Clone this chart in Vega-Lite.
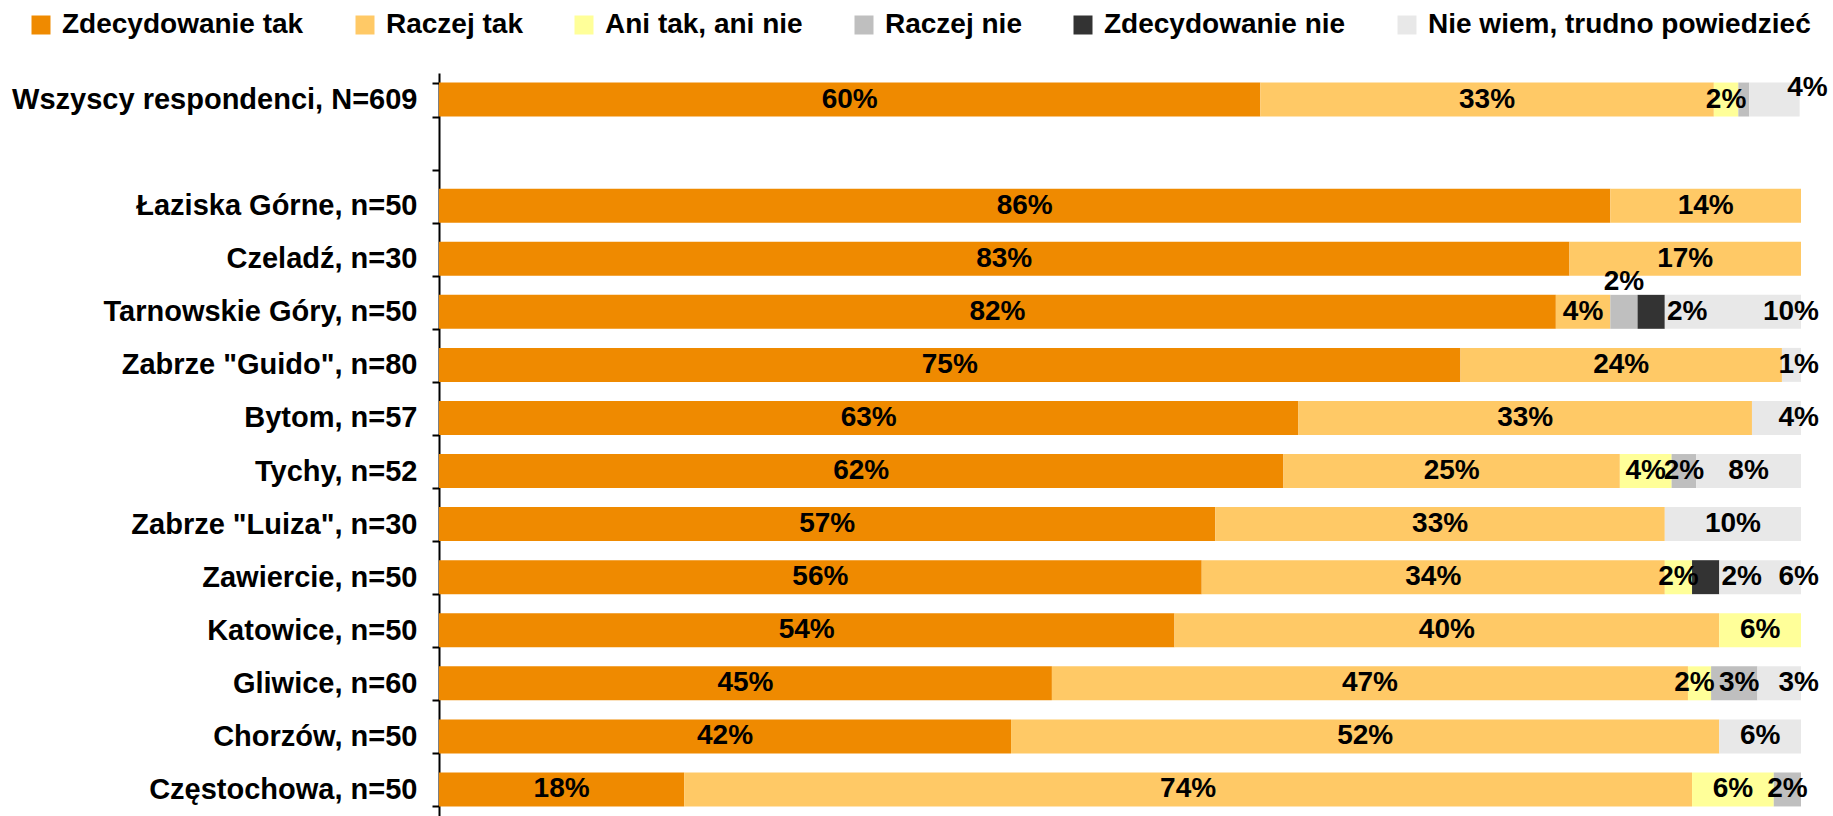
{
  "$schema": "https://vega.github.io/schema/vega-lite/v6.json",
  "width": 1362,
  "height": 743,
  "autosize": {"type": "none"},
  "padding": {"left": 439, "top": 73, "right": 32, "bottom": 0},
  "config": {"view": {"stroke": null}, "font": "Liberation Sans"},
  "data": {
    "values": [
      {"g": "Wszyscy respondenci, N=609", "a": "Zdecydowanie tak", "k": 1, "v": 0.603},
      {"g": "Wszyscy respondenci, N=609", "a": "Raczej tak", "k": 2, "v": 0.333},
      {"g": "Wszyscy respondenci, N=609", "a": "Ani tak, ani nie", "k": 3, "v": 0.018},
      {"g": "Wszyscy respondenci, N=609", "a": "Raczej nie", "k": 4, "v": 0.008},
      {"g": "Wszyscy respondenci, N=609", "a": "Nie wiem, trudno powiedzieć", "k": 6, "v": 0.037},
      {"g": "Łaziska Górne, n=50", "a": "Zdecydowanie tak", "k": 1, "v": 0.86},
      {"g": "Łaziska Górne, n=50", "a": "Raczej tak", "k": 2, "v": 0.14},
      {"g": "Czeladź, n=30", "a": "Zdecydowanie tak", "k": 1, "v": 0.83},
      {"g": "Czeladź, n=30", "a": "Raczej tak", "k": 2, "v": 0.17},
      {"g": "Tarnowskie Góry, n=50", "a": "Zdecydowanie tak", "k": 1, "v": 0.82},
      {"g": "Tarnowskie Góry, n=50", "a": "Raczej tak", "k": 2, "v": 0.04},
      {"g": "Tarnowskie Góry, n=50", "a": "Raczej nie", "k": 4, "v": 0.02},
      {"g": "Tarnowskie Góry, n=50", "a": "Zdecydowanie nie", "k": 5, "v": 0.02},
      {"g": "Tarnowskie Góry, n=50", "a": "Nie wiem, trudno powiedzieć", "k": 6, "v": 0.10},
      {"g": "Zabrze \"Guido\", n=80", "a": "Zdecydowanie tak", "k": 1, "v": 0.75},
      {"g": "Zabrze \"Guido\", n=80", "a": "Raczej tak", "k": 2, "v": 0.236},
      {"g": "Zabrze \"Guido\", n=80", "a": "Nie wiem, trudno powiedzieć", "k": 6, "v": 0.014},
      {"g": "Bytom, n=57", "a": "Zdecydowanie tak", "k": 1, "v": 0.631},
      {"g": "Bytom, n=57", "a": "Raczej tak", "k": 2, "v": 0.333},
      {"g": "Bytom, n=57", "a": "Nie wiem, trudno powiedzieć", "k": 6, "v": 0.036},
      {"g": "Tychy, n=52", "a": "Zdecydowanie tak", "k": 1, "v": 0.62},
      {"g": "Tychy, n=52", "a": "Raczej tak", "k": 2, "v": 0.247},
      {"g": "Tychy, n=52", "a": "Ani tak, ani nie", "k": 3, "v": 0.038},
      {"g": "Tychy, n=52", "a": "Raczej nie", "k": 4, "v": 0.018},
      {"g": "Tychy, n=52", "a": "Nie wiem, trudno powiedzieć", "k": 6, "v": 0.077},
      {"g": "Zabrze \"Luiza\", n=30", "a": "Zdecydowanie tak", "k": 1, "v": 0.57},
      {"g": "Zabrze \"Luiza\", n=30", "a": "Raczej tak", "k": 2, "v": 0.33},
      {"g": "Zabrze \"Luiza\", n=30", "a": "Nie wiem, trudno powiedzieć", "k": 6, "v": 0.10},
      {"g": "Zawiercie, n=50", "a": "Zdecydowanie tak", "k": 1, "v": 0.56},
      {"g": "Zawiercie, n=50", "a": "Raczej tak", "k": 2, "v": 0.34},
      {"g": "Zawiercie, n=50", "a": "Ani tak, ani nie", "k": 3, "v": 0.02},
      {"g": "Zawiercie, n=50", "a": "Zdecydowanie nie", "k": 5, "v": 0.02},
      {"g": "Zawiercie, n=50", "a": "Nie wiem, trudno powiedzieć", "k": 6, "v": 0.06},
      {"g": "Katowice, n=50", "a": "Zdecydowanie tak", "k": 1, "v": 0.54},
      {"g": "Katowice, n=50", "a": "Raczej tak", "k": 2, "v": 0.40},
      {"g": "Katowice, n=50", "a": "Ani tak, ani nie", "k": 3, "v": 0.06},
      {"g": "Gliwice, n=60", "a": "Zdecydowanie tak", "k": 1, "v": 0.45},
      {"g": "Gliwice, n=60", "a": "Raczej tak", "k": 2, "v": 0.467},
      {"g": "Gliwice, n=60", "a": "Ani tak, ani nie", "k": 3, "v": 0.017},
      {"g": "Gliwice, n=60", "a": "Raczej nie", "k": 4, "v": 0.034},
      {"g": "Gliwice, n=60", "a": "Nie wiem, trudno powiedzieć", "k": 6, "v": 0.032},
      {"g": "Chorzów, n=50", "a": "Zdecydowanie tak", "k": 1, "v": 0.42},
      {"g": "Chorzów, n=50", "a": "Raczej tak", "k": 2, "v": 0.52},
      {"g": "Chorzów, n=50", "a": "Nie wiem, trudno powiedzieć", "k": 6, "v": 0.06},
      {"g": "Częstochowa, n=50", "a": "Zdecydowanie tak", "k": 1, "v": 0.18},
      {"g": "Częstochowa, n=50", "a": "Raczej tak", "k": 2, "v": 0.74},
      {"g": "Częstochowa, n=50", "a": "Ani tak, ani nie", "k": 3, "v": 0.06},
      {"g": "Częstochowa, n=50", "a": "Raczej nie", "k": 4, "v": 0.02}
    ]
  },
  "transform": [
    {"stack": "v", "groupby": ["g"], "sort": [{"field": "k", "order": "ascending"}], "as": ["v0", "v1"]},
    {"calculate": "(datum.v0 + datum.v1) / 2", "as": "mid"}
  ],
  "encoding": {
    "y": {
      "field": "g",
      "type": "nominal",
      "scale": {
        "domain": ["Wszyscy respondenci, N=609", " ", "Łaziska Górne, n=50", "Czeladź, n=30", "Tarnowskie Góry, n=50", "Zabrze \"Guido\", n=80", "Bytom, n=57", "Tychy, n=52", "Zabrze \"Luiza\", n=30", "Zawiercie, n=50", "Katowice, n=50", "Gliwice, n=60", "Chorzów, n=50", "Częstochowa, n=50"],
        "paddingInner": 0.36,
        "paddingOuter": 0.18
      },
      "axis": {
        "title": null,
        "labelFontSize": 29,
        "labelFontWeight": "bold",
        "labelColor": "black",
        "labelLimit": 600,
        "labelPadding": 15,
        "tickSize": 7,
        "tickWidth": 2,
        "tickColor": "black",
        "domainColor": "black",
        "domainWidth": 2,
        "tickBand": "extent",
        "grid": false
      }
    }
  },
  "layer": [
    {
      "mark": {"type": "bar"},
      "encoding": {
        "x": {"field": "v0", "type": "quantitative", "scale": {"domain": [0, 1], "nice": false, "zero": true}, "axis": null},
        "x2": {"field": "v1"},
        "color": {
          "field": "a",
          "type": "nominal",
          "scale": {
            "domain": ["Zdecydowanie tak", "Raczej tak", "Ani tak, ani nie", "Raczej nie", "Zdecydowanie nie", "Nie wiem, trudno powiedzieć"],
            "range": ["#EF8A00", "#FFC966", "#FFFF99", "#BFBFBF", "#333333", "#E8E8E8"]
          },
          "legend": {
            "orient": "none",
            "legendX": -412,
            "legendY": -62,
            "direction": "horizontal",
            "columns": 6,
            "title": null,
            "symbolType": "square",
            "symbolSize": 361,
            "symbolStrokeWidth": 0,
            "symbolOpacity": 1,
            "labelFontSize": 28,
            "labelFontWeight": "bold",
            "labelColor": "black",
            "labelOffset": 7,
            "labelLimit": 700,
            "columnPadding": 47
          }
        }
      }
    },
    {
      "transform": [{"filter": "datum.v >= 0.01 && datum.k != 5 && !(indexof(datum.g,'Gliwice') == 0 && (datum.k == 3 || datum.k == 4)) && !(datum.k == 4 && indexof(datum.g,'Tarnowskie') == 0) && !(datum.k == 6 && (indexof(datum.g,'Wszyscy') == 0 || indexof(datum.g,'Tarnowskie') == 0 || indexof(datum.g,'Guido') >= 0 || indexof(datum.g,'Bytom') == 0 || indexof(datum.g,'Zawiercie') == 0 || indexof(datum.g,'Gliwice') == 0))"}],
      "mark": {"type": "text", "fontSize": 28, "fontWeight": "bold", "color": "black", "baseline": "middle", "align": "center"},
      "encoding": {
        "x": {"field": "mid", "type": "quantitative"},
        "text": {"field": "v", "type": "quantitative", "format": ".0%"}
      }
    },
    {
      "transform": [{"filter": "datum.k == 5"}],
      "mark": {"type": "text", "fontSize": 28, "fontWeight": "bold", "color": "black", "baseline": "middle", "align": "center", "dx": 36},
      "encoding": {
        "x": {"field": "mid", "type": "quantitative"},
        "text": {"field": "v", "type": "quantitative", "format": ".0%"}
      }
    },
    {
      "transform": [{"filter": "datum.k == 4 && indexof(datum.g,'Tarnowskie') == 0"}],
      "mark": {"type": "text", "fontSize": 28, "fontWeight": "bold", "color": "black", "baseline": "middle", "align": "center", "dy": -30},
      "encoding": {
        "x": {"field": "mid", "type": "quantitative"},
        "text": {"field": "v", "type": "quantitative", "format": ".0%"}
      }
    },
    {
      "transform": [{"filter": "datum.k == 4 && indexof(datum.g,'Gliwice') == 0"}],
      "mark": {"type": "text", "fontSize": 28, "fontWeight": "bold", "color": "black", "baseline": "middle", "align": "center", "dx": 5},
      "encoding": {
        "x": {"field": "mid", "type": "quantitative"},
        "text": {"field": "v", "type": "quantitative", "format": ".0%"}
      }
    },
    {
      "transform": [{"filter": "datum.k == 3 && indexof(datum.g,'Gliwice') == 0"}],
      "mark": {"type": "text", "fontSize": 28, "fontWeight": "bold", "color": "black", "baseline": "middle", "align": "center", "dx": -5},
      "encoding": {
        "x": {"field": "mid", "type": "quantitative"},
        "text": {"field": "v", "type": "quantitative", "format": ".0%"}
      }
    },
    {
      "transform": [{"filter": "datum.k == 6 && (indexof(datum.g,'Tarnowskie') == 0 || indexof(datum.g,'Guido') >= 0 || indexof(datum.g,'Bytom') == 0 || indexof(datum.g,'Zawiercie') == 0 || indexof(datum.g,'Gliwice') == 0)"}],
      "mark": {"type": "text", "fontSize": 28, "fontWeight": "bold", "color": "black", "baseline": "middle", "align": "right", "dx": 18},
      "encoding": {
        "x": {"field": "v1", "type": "quantitative"},
        "text": {"field": "v", "type": "quantitative", "format": ".0%"}
      }
    },
    {
      "transform": [{"filter": "datum.k == 6 && indexof(datum.g,'Wszyscy') == 0"}],
      "mark": {"type": "text", "fontSize": 28, "fontWeight": "bold", "color": "black", "baseline": "middle", "align": "right", "dx": 28, "dy": -12},
      "encoding": {
        "x": {"field": "v1", "type": "quantitative"},
        "text": {"field": "v", "type": "quantitative", "format": ".0%"}
      }
    }
  ]
}
